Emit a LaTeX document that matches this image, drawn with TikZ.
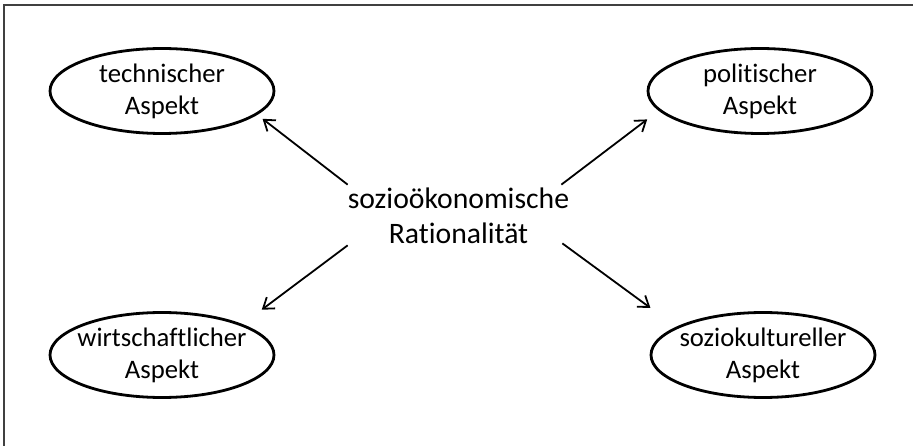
\documentclass[tikz,border=0pt]{standalone}
\usepackage{fontspec}
\setmainfont{Carlito}[Ligatures={NoCommon}]
\usetikzlibrary{shapes.geometric,arrows.meta,calc}
\tikzset{
  aspect/.style={ellipse, draw=black, line width=2.8pt, minimum width=224pt, minimum height=85pt,
    inner xsep=-20pt, inner ysep=-6pt, align=center, font=\fontsize{26.7pt}{32pt}\selectfont},
  centre/.style={inner sep=0pt, align=center, font=\fontsize{29.7pt}{35.5pt}\selectfont},
  arr/.style={line width=1.8pt, -{Straight Barb[length=10pt,width=14pt]}},
  frame/.style={draw=black!75, line width=2pt}
}
\begin{document}
\begin{tikzpicture}[x=1pt,y=-1pt]
\useasboundingbox (0,0) rectangle (913,446);
\fill[white] (0,0) rectangle (913,446);
\coordinate (fa) at (4,446);
\coordinate (fb) at (4,5);
\coordinate (fc) at (913,5);
\draw[frame] (fa) -- (fb) -- (fc);

\node[aspect] (t) at (162,91) {technischer\\Aspekt};
\node[aspect] (p) at (760,91) {politischer\\Aspekt};
\node[aspect] (w) at (162,355) {wirtschaftlicher\\Aspekt};
\node[aspect] (s) at (763,355) {soziokultureller\\Aspekt};

\node[centre] (c) at (458.5,216) {sozioökonomische\\Rationalität};

\draw[arr, shorten >=6.6pt] ([yshift=3pt]c.north west) -- (t.-14.7);
\draw[arr, shorten >=14.4pt] ([xshift=-8pt,yshift=3pt]c.north east) -- (p.191);
\draw[arr, shorten >=24pt] ([yshift=-1pt]c.south west) -- (w.21.5);
\draw[arr, shorten >=31.9pt] ([xshift=-7pt,yshift=1pt]c.south east) -- (s.162.9);
\end{tikzpicture}
\end{document}
